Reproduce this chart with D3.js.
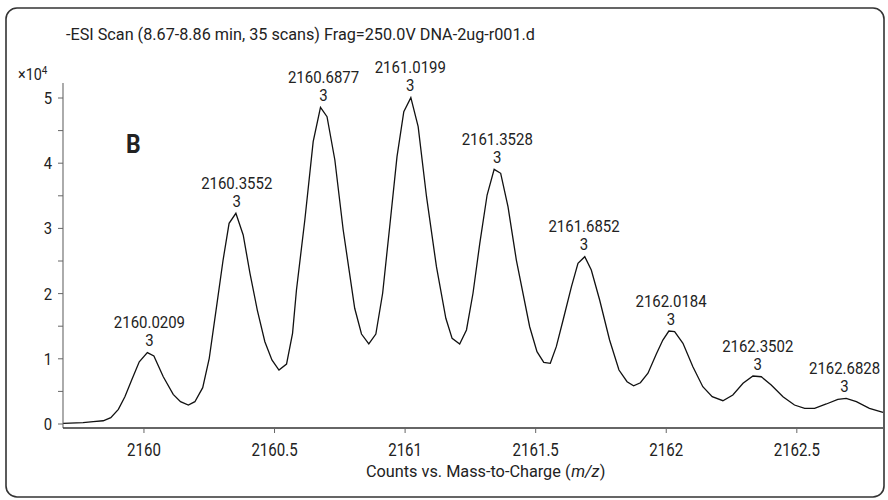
<!DOCTYPE html>
<html>
<head>
<meta charset="utf-8">
<script src="https://cdn.jsdelivr.net/npm/d3@7"></script>
<style>
  body { margin: 0; background: #fff; }
  svg text { font-family: Roboto, "Liberation Sans", sans-serif; fill: #222; }
</style>
</head>
<body>
<div id="chart"></div>
<script>
// espectro de masas (m/z) y cuentas (x10^4)
var mz = [2159.691, 2159.767, 2159.806, 2159.844, 2159.873, 2159.902, 2159.927, 2159.953, 2159.982, 2160.013,
  2160.038, 2160.074, 2160.112, 2160.140, 2160.170, 2160.195, 2160.225, 2160.250, 2160.278, 2160.303,
  2160.326, 2160.352, 2160.380, 2160.406, 2160.434, 2160.463, 2160.490, 2160.517, 2160.546, 2160.569,
  2160.584, 2160.616, 2160.648, 2160.676, 2160.701, 2160.731, 2160.763, 2160.807, 2160.833, 2160.861,
  2160.888, 2160.914, 2160.941, 2160.969, 2160.995, 2161.022, 2161.050, 2161.082, 2161.120, 2161.156,
  2161.180, 2161.209, 2161.235, 2161.260, 2161.286, 2161.314, 2161.341, 2161.366, 2161.394, 2161.426,
  2161.477, 2161.505, 2161.531, 2161.556, 2161.579, 2161.605, 2161.637, 2161.662, 2161.688, 2161.713,
  2161.745, 2161.783, 2161.819, 2161.850, 2161.875, 2161.901, 2161.930, 2161.962, 2161.987, 2162.010,
  2162.032, 2162.064, 2162.102, 2162.140, 2162.176, 2162.217, 2162.255, 2162.294, 2162.332, 2162.364,
  2162.402, 2162.447, 2162.491, 2162.530, 2162.568, 2162.613, 2162.657, 2162.689, 2162.728, 2162.778,
  2162.830];
var counts = [0.011, 0.020, 0.035, 0.050, 0.097, 0.225, 0.419, 0.675, 0.955, 1.094,
  1.043, 0.725, 0.455, 0.342, 0.291, 0.342, 0.557, 1.008, 1.799, 2.515,
  3.078, 3.232, 2.899, 2.311, 1.748, 1.262, 0.982, 0.828, 0.920, 1.391,
  2.055, 3.129, 4.330, 4.857, 4.713, 4.049, 2.975, 1.775, 1.380, 1.227,
  1.380, 2.005, 3.026, 4.100, 4.790, 5.005, 4.560, 3.486, 2.413, 1.621,
  1.314, 1.227, 1.442, 2.005, 2.771, 3.512, 3.906, 3.845, 3.333, 2.515,
  1.492, 1.109, 0.946, 0.931, 1.186, 1.595, 2.106, 2.465, 2.566, 2.362,
  1.902, 1.288, 0.828, 0.649, 0.587, 0.633, 0.778, 1.074, 1.288, 1.426,
  1.416, 1.238, 0.879, 0.572, 0.419, 0.357, 0.445, 0.624, 0.736, 0.725,
  0.598, 0.419, 0.291, 0.241, 0.241, 0.307, 0.379, 0.394, 0.342, 0.241,
  0.180];

// etiquetas de los picos
var peakMz = [2160.0209, 2160.3552, 2160.6877, 2161.0199, 2161.3528, 2161.6852, 2162.0184, 2162.3502, 2162.6828];
var peakCharge = ["3", "3", "3", "3", "3", "3", "3", "3", "3"];

var xTicks = [2160, 2160.5, 2161, 2161.5, 2162, 2162.5];
var yTicks = [0, 1, 2, 3, 4, 5];

var titulo = "-ESI Scan (8.67-8.86 min, 35 scans) Frag=250.0V DNA-2ug-r001.d";
// título del eje X en trozos (m/z va en cursiva)
var xTitulo = [["Counts vs. Mass-to-Charge (", "normal"], ["m/z", "italic"], [")", "normal"]];

var width = 888, height = 500;
var left = 63, right = 883, axisY = 428;
var sx = 0.86;  // la fuente original es condensada

var data = mz.map(function(d, i) { return {mz: d, c: counts[i]}; });

var x = d3.scaleLinear()
  .domain([2159.69, 2162.83])
  .range([left, right]);

var y = d3.scaleLinear()
  .domain([0, 5])
  .range([424, 98]);

var svg = d3.select("#chart").append("svg")
  .attr("width", width)
  .attr("height", height);

// marco redondeado
svg.append("rect")
  .attr("x", 6).attr("y", 8)
  .attr("width", 878).attr("height", 489)
  .attr("rx", 11).attr("ry", 11)
  .attr("fill", "none")
  .attr("stroke", "#333")
  .attr("stroke-width", 1.6);

svg.append("text")
  .attr("x", 66).attr("y", 40)
  .attr("textLength", 469)
  .attr("lengthAdjust", "spacingAndGlyphs")
  .style("font-size", "17px")
  .text(titulo);

// eje Y
var gy = svg.append("g")
  .attr("transform", "translate(" + left + ",0)");
gy.append("line")
  .attr("y1", 83).attr("y2", axisY)
  .attr("stroke", "#888").attr("stroke-width", 1.4);
gy.selectAll(".minor")
  .data(d3.range(0.5, 5, 1))
  .enter().append("line")
  .attr("x1", -5).attr("x2", 0)
  .attr("y1", function(d) { return y(d); })
  .attr("y2", function(d) { return y(d); })
  .attr("stroke", "#666");
var yt = gy.selectAll(".ytick")
  .data(yTicks)
  .enter().append("g")
  .attr("transform", function(d) { return "translate(0," + y(d) + ")"; });
yt.append("line").attr("x1", -5).attr("x2", 0).attr("stroke", "#666");
yt.append("text")
  .attr("transform", "translate(-11,0) scale(0.9,1)")
  .attr("dy", "0.36em")
  .attr("text-anchor", "end")
  .style("font-size", "16.5px")
  .text(function(d) { return d; });

svg.append("text")
  .attr("transform", "translate(18,80) scale(0.9,1)")
  .style("font-size", "16px")
  .html("×10<tspan dy='-6' style='font-size:11px'>4</tspan>");

// eje X
var gx = svg.append("g")
  .attr("transform", "translate(0," + axisY + ")");
gx.append("line")
  .attr("x1", left).attr("x2", right)
  .attr("stroke", "#333").attr("stroke-width", 1.4);
var xt = gx.selectAll(".xtick")
  .data(xTicks)
  .enter().append("g")
  .attr("transform", function(d) { return "translate(" + x(d) + ",0)"; });
xt.append("line").attr("y1", 0).attr("y2", 5).attr("stroke", "#666");
xt.append("text")
  .attr("transform", "translate(0,28) scale(" + sx + ",1)")
  .attr("text-anchor", "middle")
  .style("font-size", "17.5px")
  .text(function(d) { return d; });

// título del eje X: trozos seguidos, luego centrado y comprimido a 240px
var gt = svg.append("g");
var pos = 0;
gt.selectAll("text")
  .data(xTitulo)
  .enter().append("text")
  .style("font-size", "17px")
  .style("font-style", function(d) { return d[1]; })
  .text(function(d) { return d[0]; })
  .each(function() {
    d3.select(this).attr("x", pos);
    pos += this.getComputedTextLength() + 0.5;
  });
var k = 240 / pos;
gt.attr("transform", "translate(366,477) scale(" + k + ",1)");

svg.append("text")
  .attr("transform", "translate(126,153) scale(0.92,1)")
  .style("font-size", "25px")
  .style("font-weight", "bold")
  .text("B");

// curva
var line = d3.line()
  .x(function(d) { return x(d.mz); })
  .y(function(d) { return y(d.c); });

svg.append("path")
  .datum(data)
  .attr("d", line)
  .attr("fill", "none")
  .attr("stroke", "#111")
  .attr("stroke-width", 1.3);

// etiquetas de picos sobre el máximo local (dos líneas en un solo texto)
var labels = svg.selectAll(".peak")
  .data(peakMz)
  .enter().append("text")
  .attr("text-anchor", "middle")
  .style("font-size", "17px")
  .attr("transform", function(p) {
    var near = data.filter(function(d) { return Math.abs(d.mz - p) < 0.08; });
    var top = d3.max(near, function(d) { return d.c; });
    return "translate(" + x(p) + "," + (y(top) - 24.5) + ") scale(0.88,1)";
  });
labels.append("tspan")
  .attr("x", 0).attr("dy", 0)
  .text(function(d) { return d.toFixed(4); });
labels.append("tspan")
  .attr("x", 0).attr("dy", 18.3)
  .text(function(d, i) { return peakCharge[i]; });
</script>
</body>
</html>
